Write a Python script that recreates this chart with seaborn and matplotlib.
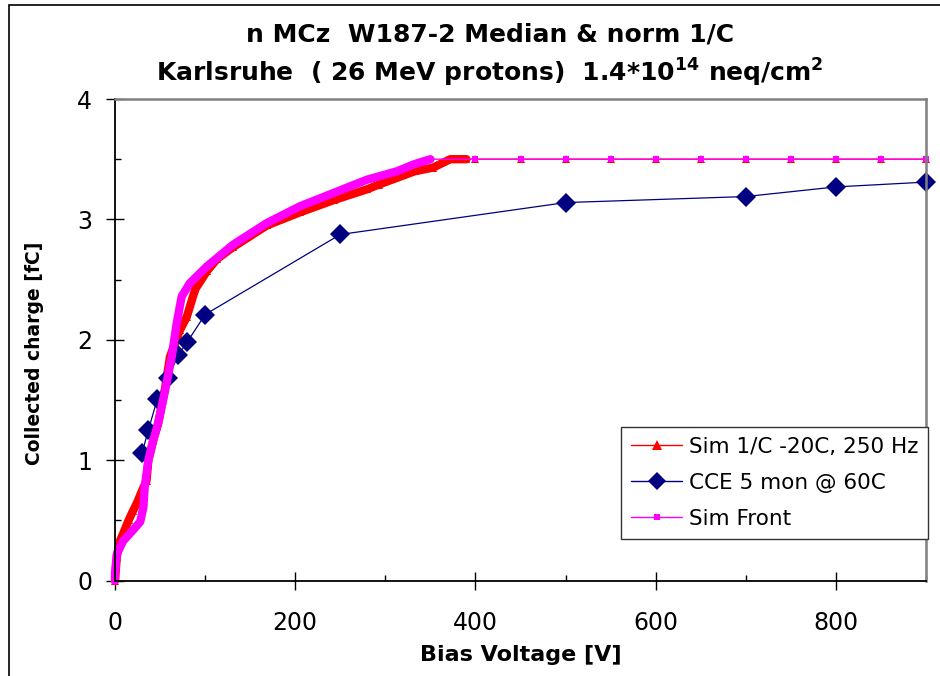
import numpy as np
import pandas as pd
import matplotlib
matplotlib.use("Agg")
import matplotlib.pyplot as plt
import seaborn as sns
from matplotlib.lines import Line2D
from matplotlib.patches import Rectangle
from matplotlib.ticker import MultipleLocator

# ---------------- data ----------------
sim1c_v = [0, 2, 5.5, 9, 15, 20, 24, 29.6, 35, 37, 42.6, 48, 55.6, 61, 66, 72, 79.6,
           89, 102, 113, 131, 168.5, 205.5, 242.6, 279.6, 293, 332.6, 353, 372, 390]
sim1c_c = [0, 0.2, 0.33, 0.39, 0.5, 0.58, 0.64, 0.74, 0.83, 1.0, 1.17, 1.31, 1.6, 1.86,
           1.96, 2.08, 2.19, 2.42, 2.57, 2.67, 2.77, 2.95, 3.06, 3.16, 3.25, 3.29, 3.40,
           3.43, 3.50, 3.50]

front_v = [0, 0, 2, 9, 20, 28, 31.5, 33, 37, 42.6, 48, 55.6, 63, 68.5, 74, 83, 102, 131,
           168.5, 205.5, 242.6, 279.6, 313, 332.6, 350]
front_c = [0, 0.06, 0.22, 0.33, 0.42, 0.49, 0.61, 0.78, 1.0, 1.17, 1.31, 1.58, 1.86, 2.14,
           2.36, 2.47, 2.61, 2.79, 2.97, 3.11, 3.22, 3.33, 3.40, 3.46, 3.50]

tail_v = [400, 450, 500, 550, 600, 650, 700, 750, 800, 850, 900]
tail_c = [3.5, 3.5, 3.5, 3.5, 3.5, 3.5, 3.5, 3.5, 3.5, 3.5, 3.5]

cce_v = [30, 37, 47, 59, 70, 80, 100, 250, 500, 700, 800, 900]
cce_c = [1.06, 1.25, 1.51, 1.68, 1.875, 1.98, 2.21, 2.875, 3.14, 3.19, 3.27, 3.31]

labels = ["Sim 1/C -20C, 250 Hz", "CCE 5 mon @ 60C", "Sim Front"]
title1 = "n MCz  W187-2 Median & norm 1/C"
title2 = r"Karlsruhe  ( 26 MeV protons)  1.4*10$^{\mathbf{14}}$ neq/cm$^{\mathbf{2}}$"
xlabel = "Bias Voltage [V]"
ylabel = "Collected charge [fC]"

RED = "#FF0000"
NAVY = "#000080"
MAG = "#FF00FF"

sns.set_style("white")
plt.rcParams["font.family"] = ["DejaVu Sans"]
plt.rcParams["text.color"] = "black"
plt.rcParams["axes.labelcolor"] = "black"
plt.rcParams["xtick.color"] = "black"
plt.rcParams["ytick.color"] = "black"

fig = plt.figure(figsize=(9.4, 6.76), dpi=100)
ax = fig.add_axes([115 / 940, 1 - 580.7 / 676, 811 / 940, 481.7 / 676])

red_df = pd.DataFrame({"v": sim1c_v + tail_v, "c": sim1c_c + tail_c})
red_dense = pd.DataFrame({"v": sim1c_v, "c": sim1c_c})
mag_df = pd.DataFrame({"v": front_v + tail_v, "c": front_c + tail_c})
mag_dense = pd.DataFrame({"v": front_v, "c": front_c})
cce_df = pd.DataFrame({"v": cce_v, "c": cce_c})

common = dict(estimator=None, sort=False, legend=False, clip_on=False, ax=ax)

# red: thick band + thin line with triangles
sns.lineplot(data=red_dense, x="v", y="c", color=RED, linewidth=6,
             solid_joinstyle="round", solid_capstyle="round", **common)
sns.lineplot(data=red_df, x="v", y="c", color=RED, linewidth=1, marker="^",
             markersize=6, markeredgewidth=0, **common)
# blue CCE
sns.lineplot(data=cce_df, x="v", y="c", color=NAVY, linewidth=0.9, marker="D",
             markersize=10, markeredgewidth=0, **common)
# magenta: thick band + thin line with squares
sns.lineplot(data=mag_dense, x="v", y="c", color=MAG, linewidth=6,
             solid_joinstyle="round", solid_capstyle="round", **common)
sns.lineplot(data=mag_df, x="v", y="c", color=MAG, linewidth=1, marker="s",
             markersize=5, markeredgewidth=0, **common)

ax.set_xlim(0, 900)
ax.set_ylim(0, 4)
ax.set_xticks([0, 200, 400, 600, 800])
ax.set_yticks([0, 1, 2, 3, 4])
ax.xaxis.set_minor_locator(MultipleLocator(100))
ax.yaxis.set_minor_locator(MultipleLocator(0.5))
ax.tick_params(which="major", direction="inout", length=13, width=1, color="black",
               labelcolor="black", labelsize=17, bottom=True, left=True)
ax.tick_params(axis="y", which="major", pad=10)
ax.tick_params(axis="x", which="major", pad=15)
ax.tick_params(which="minor", direction="in", length=4.5, width=1, color="black",
               bottom=True, left=True)

for s in ["left", "bottom"]:
    ax.spines[s].set_color("black")
    ax.spines[s].set_linewidth(1.3)
for s in ["top", "right"]:
    ax.spines[s].set_color("#808080")
    ax.spines[s].set_linewidth(1.8)

ax.set_xlabel(xlabel, fontsize=16, fontweight="bold", color="black")
ax.set_ylabel(ylabel, fontsize=13.5, fontweight="bold", color="black")
ax.xaxis.set_label_coords(0.5, (580.7 - 645) / 481.7)
ax.yaxis.set_label_coords((44 - 115) / 811, (580.7 - 353) / 481.7)

fig.text(490 / 940, 1 - 42 / 676, title1, ha="center", va="baseline",
         fontsize=18, fontweight="bold", color="black")
fig.text(490 / 940, 1 - 82 / 676, title2, ha="center", va="baseline",
         fontsize=18, fontweight="bold", color="black")

handles = [
    Line2D([], [], color=RED, lw=1, marker="^", ms=7, mew=0),
    Line2D([], [], color=NAVY, lw=1, marker="D", ms=9, mew=0),
    Line2D([], [], color=MAG, lw=1, marker="s", ms=5, mew=0),
]
leg = ax.legend(handles, labels, loc="upper left", bbox_to_anchor=(0.624, 0.319),
                fontsize=15.5, frameon=True, fancybox=False, framealpha=1,
                edgecolor="#333333", borderaxespad=0, handlelength=2.4,
                handletextpad=0.3, labelspacing=0.75, borderpad=0.45)
leg.get_frame().set_linewidth(1.0)
for t in leg.get_texts():
    t.set_color("black")

fig.add_artist(Rectangle((9 / 940, -0.05), 1.2, 1 - 5 / 676 + 0.05, fill=False,
                         edgecolor="black", linewidth=1.2, transform=fig.transFigure))

fig.savefig("out.png", dpi=100)
